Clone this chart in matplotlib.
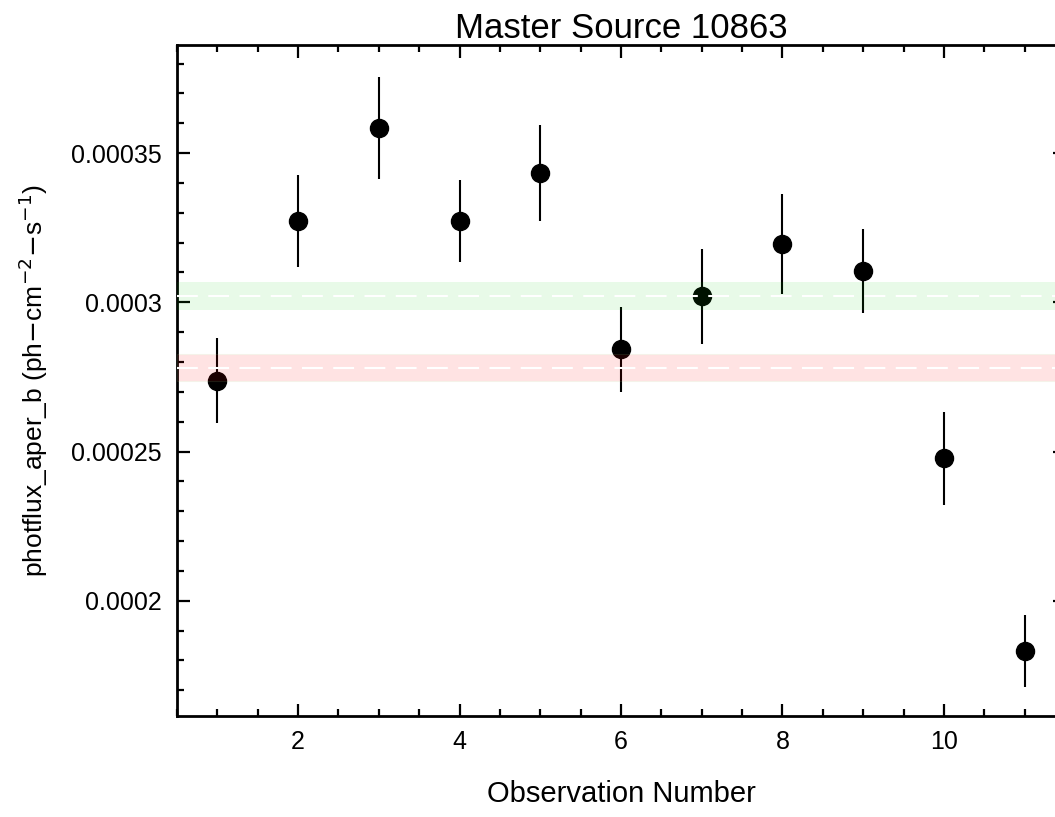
import numpy as np
import matplotlib
matplotlib.use("Agg")
import matplotlib.pyplot as plt
from matplotlib.ticker import MultipleLocator, FuncFormatter

plt.rcParams['font.family'] = ['Liberation Sans', 'DejaVu Sans']

# observation data
obs_num = [1, 2, 3, 4, 5, 6, 7, 8, 9, 10, 11]
flux = [0.0002738, 0.0003272, 0.0003584, 0.0003272, 0.0003433, 0.0002842,
        0.0003020, 0.0003195, 0.0003104, 0.0002477, 0.0001832]
flux_err = [1.43e-5, 1.55e-5, 1.7e-5, 1.38e-5, 1.6e-5, 1.43e-5,
            1.58e-5, 1.67e-5, 1.4e-5, 1.56e-5, 1.2e-5]

# reference levels (value, half-width)
green_level, green_half = 0.0003020, 0.47e-5
red_level, red_half = 0.0002781, 0.45e-5

fig = plt.figure(figsize=(10.55, 8.17), dpi=100)
ax = fig.add_axes([0.1678, 0.1236, 0.8417, 0.8213])

ax.errorbar(obs_num, flux, yerr=flux_err, fmt='o', color='black', ms=13,
            elinewidth=1.5, capsize=0, zorder=2)

ax.axhspan(green_level - green_half, green_level + green_half,
           color='#00cc00', alpha=0.09, lw=0, zorder=3)
ax.axhline(green_level, color='white', lw=1.5, ls=(0, (10, 5)), zorder=4)
ax.axhspan(red_level - red_half, red_level + red_half,
           facecolor='#ff0000', alpha=0.11, edgecolor='#aaffaa', lw=0.8, zorder=3)
ax.axhline(red_level, color='white', lw=1.5, ls=(0, (10, 5)), zorder=4)

ax.set_xlim(0.5, 11.5)
ax.set_ylim(0.0001614, 0.0003862)
ax.xaxis.set_major_locator(MultipleLocator(2))
ax.xaxis.set_minor_locator(MultipleLocator(0.5))
ax.yaxis.set_major_locator(MultipleLocator(0.00005))
ax.yaxis.set_minor_locator(MultipleLocator(0.00001))
ax.yaxis.set_major_formatter(FuncFormatter(lambda v, p: f'{v:g}'))

ax.tick_params(which='both', direction='in', top=True, right=True,
               width=1.6, labelsize=18)
ax.tick_params(axis='x', pad=10)
ax.tick_params(axis='y', pad=11)
ax.tick_params(which='major', length=9)
ax.tick_params(which='minor', length=5)
for s in ax.spines.values():
    s.set_linewidth(2)

ax.set_title('Master Source 10863', fontsize=25, pad=5)
ax.set_xlabel('Observation Number', fontsize=21, labelpad=19)
ax.set_ylabel(r'photflux_aper_b (ph$-$cm$^{-2}$$-$s$^{-1}$)', fontsize=19, labelpad=15)

fig.savefig('out.png', dpi=100)
